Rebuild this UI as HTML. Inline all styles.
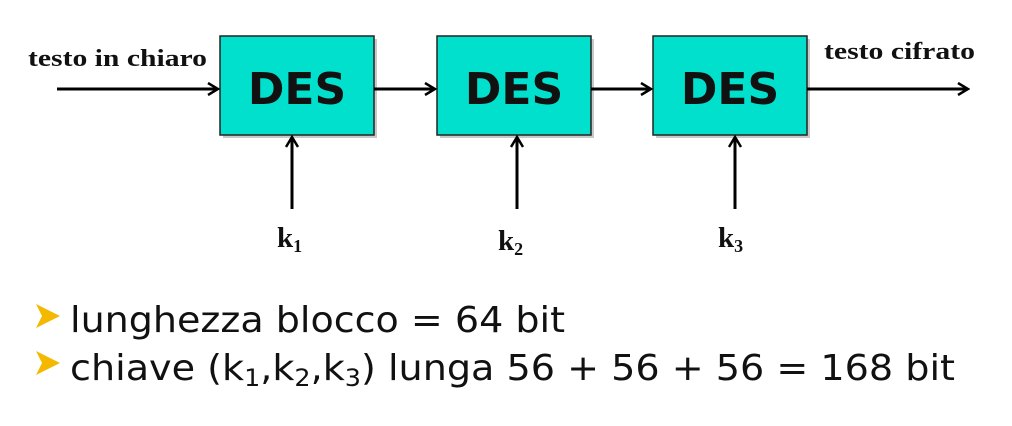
<!DOCTYPE html>
<html><head><style>body{margin:0;background:#fff}</style></head><body>
<svg width="1012" height="421" xmlns="http://www.w3.org/2000/svg">
<defs><marker id="a" markerWidth="14" markerHeight="14" refX="12" refY="7" orient="auto" markerUnits="userSpaceOnUse"><path d="M2,1 L12,7 L2,13" fill="none" stroke="#000" stroke-width="2.5"/></marker></defs>
<g fill="#c8c8c8"><rect x="223" y="39" width="154" height="99"/><rect x="440" y="39" width="154" height="99"/><rect x="656" y="39" width="154" height="99"/></g>
<g fill="#00e0cc" stroke="#222" stroke-width="1.5"><rect x="220" y="36" width="154" height="99"/><rect x="437" y="36" width="154" height="99"/><rect x="653" y="36" width="154" height="99"/></g>
<g font-family="'DejaVu Sans',sans-serif" font-weight="bold" font-size="44" text-anchor="middle" fill="#111"><text x="297" y="104">DES</text><text x="514" y="104">DES</text><text x="730" y="104">DES</text></g>
<g stroke="#000" stroke-width="3" marker-end="url(#a)"><line x1="57" y1="89" x2="218" y2="89"/><line x1="374" y1="89" x2="435" y2="89"/><line x1="591" y1="89" x2="651" y2="89"/><line x1="807" y1="89" x2="968" y2="89"/>
<line x1="292" y1="209" x2="292" y2="137"/><line x1="517" y1="209" x2="517" y2="137"/><line x1="735" y1="209" x2="735" y2="137"/></g>
<g font-family="'Liberation Serif',serif" font-weight="bold" fill="#111"><text x="28" y="66" font-size="24" textLength="179" lengthAdjust="spacingAndGlyphs">testo in chiaro</text><text x="824" y="59" font-size="24" textLength="151" lengthAdjust="spacingAndGlyphs">testo cifrato</text>
<text x="277" y="247" font-size="29">k<tspan font-size="18" dy="5">1</tspan></text><text x="498" y="250" font-size="29">k<tspan font-size="18" dy="5">2</tspan></text><text x="718" y="247" font-size="29">k<tspan font-size="18" dy="5">3</tspan></text></g>
<g fill="#f5b800"><path d="M36,304 L60,316 L36,328 L42,316Z"/><path d="M36,351 L60,363 L36,375 L42,363Z"/></g>
<g font-family="'DejaVu Sans',sans-serif" font-size="36" fill="#111"><text x="70" y="332" textLength="495" lengthAdjust="spacingAndGlyphs">lunghezza blocco = 64 bit</text>
<text x="70" y="380" textLength="885" lengthAdjust="spacingAndGlyphs">chiave (k<tspan font-size="24" dy="6">1</tspan><tspan dy="-6">,k</tspan><tspan font-size="24" dy="6">2</tspan><tspan dy="-6">,k</tspan><tspan font-size="24" dy="6">3</tspan><tspan dy="-6">)  lunga  56 + 56 + 56 = 168 bit</tspan></text></g>
</svg>
</body></html>
